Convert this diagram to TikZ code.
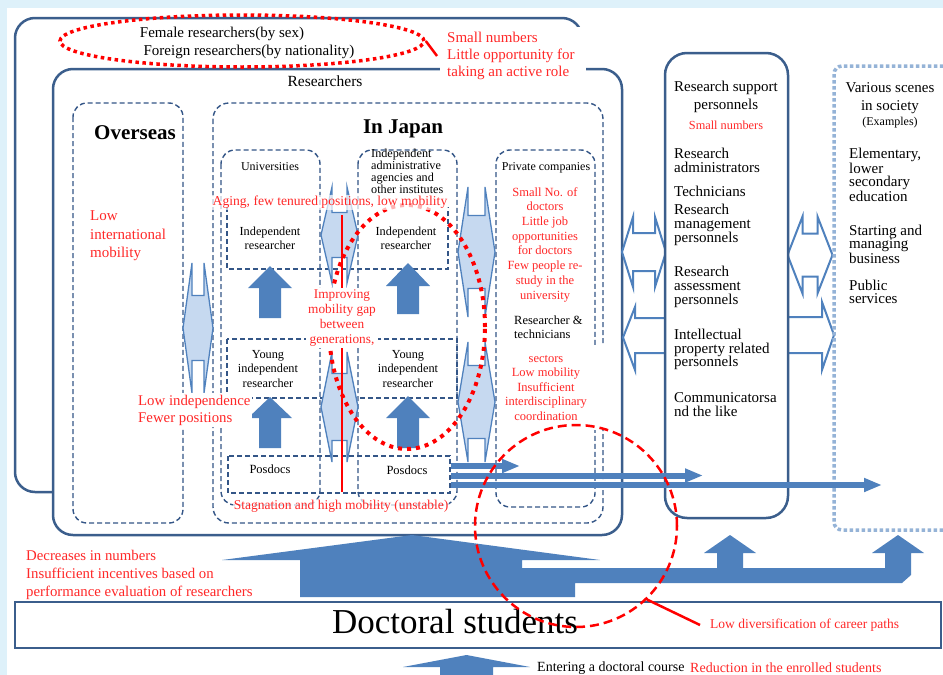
\documentclass[tikz,border=0pt]{standalone}
\usepackage{fontspec}
\setmainfont{Liberation Serif}
\usetikzlibrary{shapes.geometric,arrows.meta}
\definecolor{bgblue}{RGB}{222,241,250}
\definecolor{boxblue}{RGB}{59,94,140}
\definecolor{dashblue}{RGB}{52,86,135}
\definecolor{arrblue}{RGB}{79,129,189}
\definecolor{lightfill}{RGB}{198,217,240}
\definecolor{dotblue}{RGB}{149,179,215}
\definecolor{myred}{RGB}{255,0,0}
\definecolor{txtred}{RGB}{255,40,40}
\newcommand\fs[2]{\fontsize{#1}{#2}\selectfont}
% style, cx, cy, W, H, h, L
\newcommand\dblarrow[7]{\draw[#1] ({#2-#4/2},{#3}) -- ({#2-#4/2+#7},{#3-#5/2}) -- ({#2-#4/2+#7},{#3-#6/2}) -- ({#2+#4/2-#7},{#3-#6/2}) -- ({#2+#4/2-#7},{#3-#5/2}) -- ({#2+#4/2},{#3}) -- ({#2+#4/2-#7},{#3+#5/2}) -- ({#2+#4/2-#7},{#3+#6/2}) -- ({#2-#4/2+#7},{#3+#6/2}) -- ({#2-#4/2+#7},{#3+#5/2}) -- cycle;}
% cx, tip, headbase, bottom, headhalf, shafthalf
\newcommand\blockup[6]{\fill[arrblue] ({#1},{#2}) -- ({#1+#5},{#3}) -- ({#1+#6},{#3}) -- ({#1+#6},{#4}) -- ({#1-#6},{#4}) -- ({#1-#6},{#3}) -- ({#1-#5},{#3}) -- cycle;}
\tikzset{
  box/.style={draw=boxblue, line width=2.5pt, rounded corners=20pt},
  dbox/.style={draw=dashblue, line width=1.4pt, dash pattern=on 5pt off 3pt, rounded corners=14pt},
  lbarrow/.style={fill=lightfill, draw=arrblue, line width=1.3pt},
  oarrow/.style={fill=white, draw=arrblue, line width=2pt},
  txt/.style={inner sep=0pt, text=black},
  rtxt/.style={inner sep=0pt, text=txtred},
  harrow/.style={arrblue, line width=6pt, -{Triangle[width=13pt,length=18pt]}}
}
\begin{document}
\begin{tikzpicture}[x=1pt,y=-1pt]
\useasboundingbox (0,0) rectangle (943,675);
\fill[bgblue] (0,0) rectangle (943,675);
\fill[white] (7,8) rectangle (943,675);

% outer and researchers boxes
\draw[box] (15,18) rectangle (582,492);
\draw[box, fill=white] (53,69) rectangle (622,535);
\fill[white] (440,27) rectangle (586,84);

% top ellipse
\node[ellipse, draw=myred, line width=3.5pt, dash pattern=on 3.5pt off 3.5pt, minimum width=364pt, minimum height=52pt, inner sep=0pt] (ell) at (242,41) {};
\node[txt, font=\fs{15}{17}] (fem) at (222,34) {Female researchers(by sex)};
\node[txt, font=\fs{15}{17}] (for) at (249,52) {Foreign researchers(by nationality)};
\node[rtxt, font=\fs{15}{17}, align=left, anchor=west] (smallnum) at (447,56) {Small numbers\\Little opportunity for\\taking an active role};
\draw[myred, line width=2.5pt] (ell.east) -- ([xshift=-10pt]smallnum.west);
\node[txt, font=\fs{15.5}{18}] (res) at (325,81) {Researchers};

% Overseas
\draw[dbox] (73,103) rectangle (183,523);
\node[txt, font=\fs{21}{24}\bfseries] (ovs) at (135,133) {Overseas};
\node[rtxt, font=\fs{15}{18.5}, align=left, anchor=west] (lim) at (90,236) {Low\\international\\mobility};

% In Japan
\draw[dbox, rounded corners=16pt] (213,103) rectangle (603,523);
\node[txt, font=\fs{21}{24}\bfseries] (jpn) at (403,129) {In Japan};
\draw[dbox] (221,150) rectangle (320,505);
\draw[dbox] (358,150) rectangle (457,505);
\draw[dbox] (496,150) rectangle (595,507);
\draw[dbox, sharp corners] (227,207) -- (227,269) -- (448,269) -- (448,207);
\draw[dbox, sharp corners] (227,339) rectangle (457,398);
\draw[dbox, sharp corners] (228,456) rectangle (450,493);

% light double arrows
\dblarrow{lbarrow}{198}{328}{30}{130}{65}{9}
\dblarrow{lbarrow}{339.5}{235}{37}{96}{45}{11}
\dblarrow{lbarrow}{339.5}{407}{37}{110}{67}{11}
\dblarrow{lbarrow}{476.5}{252}{37}{130}{73}{10}
\dblarrow{lbarrow}{476.5}{402}{37}{120}{73}{10}

% promotion arrows
\blockup{270}{266}{288}{318}{22}{11}
\blockup{270}{397}{418}{448}{22}{11}
\blockup{408}{263}{286}{314}{22}{11}
\blockup{408}{396}{418}{448}{22}{11}

% red line and dotted ellipse
\draw[myred, line width=2.5pt] (342,215) -- (342,492);
\node[ellipse, draw=myred, line width=4pt, dash pattern=on 4pt off 5pt, minimum width=156pt, minimum height=244pt, inner sep=0pt] (gap) at (407,327) {};

% In Japan texts
\node[txt, font=\fs{12}{14}] (univ) at (270,167) {Universities};
\node[txt, font=\fs{12.2}{11.8}, align=left, anchor=west] (iaa) at (371,171.5) {Independent\\administrative\\agencies and\\other institutes};
\node[rtxt, font=\fs{13.6}{16}, fill=white, fill opacity=0.7, text opacity=1, inner sep=1pt] (aging) at (330,202.5) {Aging, few tenured positions, low mobility};
\node[txt, font=\fs{12.3}{14}, align=center] (ir1) at (270,238) {Independent\\researcher};
\node[txt, font=\fs{12.3}{14}, align=center] (ir2) at (406,238) {Independent\\researcher};
\node[rtxt, font=\fs{13.3}{15}, align=center, fill=white, inner sep=2pt] (impr) at (342,318) {Improving\\mobility gap\\between\\generations,};
\node[txt, font=\fs{12.3}{14.5}, align=center] (yir1) at (268,369) {Young\\independent\\researcher};
\node[txt, font=\fs{12.3}{14.5}, align=center] (yir2) at (408,369) {Young\\independent\\researcher};
\node[txt, font=\fs{12.5}{14}] (pd1) at (270,469) {Posdocs};
\node[txt, font=\fs{12.5}{14}] (pd2) at (407,470) {Posdocs};
\node[rtxt, font=\fs{13.5}{16}, fill=white, fill opacity=0.7, text opacity=1, inner sep=1pt] (stag) at (341,506) {Stagnation and high mobility (unstable)};
\node[rtxt, font=\fs{14.8}{17}, align=left, anchor=west, fill=white, inner sep=2pt] (lowind) at (136,410) {Low independence\\Fewer positions};

% Private companies
\node[txt, font=\fs{12}{14}] (priv) at (546,168) {Private companies};
\node[rtxt, font=\fs{12.5}{14.7}, align=center] (privred) at (545,244.5) {Small No. of\\doctors\\Little job\\opportunities\\for doctors\\Few people re-\\study in the\\university};
\node[txt, font=\fs{12.5}{14}, align=left, anchor=west] (rt) at (514,327) {Researcher \&\\technicians};
\fill[white] (498,346) rectangle (606,430);
\node[rtxt, font=\fs{12.5}{14.5}, align=center] (sect) at (546,388) {sectors\\Low mobility\\Insufficient\\interdisciplinary\\coordination};

% outline arrows and support box
\dblarrow{oarrow}{644}{252}{44}{70}{38}{11}
\draw[oarrow] (670,318) -- (635,318) -- (635,307) -- (623,337.5) -- (635,370) -- (635,353) -- (670,353) -- cycle;
\dblarrow{oarrow}{810}{255}{45}{77}{43}{15}
\draw[oarrow] (783,317) -- (822,317) -- (822,302) -- (834,335) -- (822,370) -- (822,353) -- (783,353) -- cycle;
\draw[box, fill=white, rounded corners=22pt] (665,53) rectangle (788,518);

\node[txt, font=\fs{15}{18}, align=center] (rsp) at (726,97) {Research support\\personnels};
\node[rtxt, font=\fs{12.3}{14}] (rspsmall) at (726,125) {Small numbers};
\node[txt, font=\fs{15}{13.5}, align=left, anchor=west] (radm) at (674,160.5) {Research\\administrators};
\node[txt, font=\fs{15}{13.5}, align=left, anchor=west] (tech) at (674,191) {Technicians};
\node[txt, font=\fs{15}{14}, align=left, anchor=west] (rman) at (674,225) {Research\\management\\personnels};
\node[txt, font=\fs{15}{14}, align=left, anchor=west] (rass) at (674,287) {Research\\assessment\\personnels};
\node[txt, font=\fs{15}{13.7}, align=left, anchor=west] (ipr) at (674,349.5) {Intellectual\\property related\\personnels};
\node[txt, font=\fs{15}{13.5}, align=left, anchor=west] (comm) at (674,404.5) {Communicatorsa\\nd the like};

% Various scenes
\draw[dotblue, line width=3.5pt, dash pattern=on 3.5pt off 2.5pt, rounded corners=8pt] (834,66) rectangle (965,530);
\node[txt, font=\fs{15}{18}, align=center] (vs) at (890,98) {Various scenes\\in society};
\node[txt, font=\fs{12}{14}] (ex) at (890,123) {(Examples)};
\node[txt, font=\fs{15}{13.4}, align=left, anchor=west] (elem) at (849,175) {Elementary,\\lower\\secondary\\education};
\node[txt, font=\fs{15}{13.2}, align=left, anchor=west] (start) at (849,244) {Starting and\\managing\\business};
\node[txt, font=\fs{15}{13.2}, align=left, anchor=west] (pub) at (849,291.5) {Public\\services};

% career arrows from posdocs
\coordinate (h1s) at (451,466); \coordinate (h1e) at (520,466);
\coordinate (h2s) at (451,475.5); \coordinate (h2e) at (703,475.5);
\coordinate (h3s) at (451,485); \coordinate (h3e) at (882,485);
\draw[harrow] (h1s) -- (h1e);
\draw[harrow] (h2s) -- (h2e);
\draw[harrow] (h3s) -- (h3e);

% big bottom arrow
\fill[arrblue] (222,560) -- (412,535) -- (600,560) -- (522,560) -- (522,568) -- (717,568) -- (717,553) -- (704,553) -- (730,535) -- (756,553) -- (743,553) -- (743,568) -- (885,568) -- (885,553) -- (872,553) -- (898,535) -- (924,553) -- (911,553) -- (911,575) -- (902,583) -- (575,583) -- (575,597) -- (300,597) -- (300,560) -- cycle;
\node[rtxt, font=\fs{14.8}{18}, align=left, anchor=west] (decr) at (26,575) {Decreases in numbers\\Insufficient incentives based on\\performance evaluation of researchers};

% doctoral students
\draw[boxblue, line width=2.5pt, fill=white] (15,602) rectangle (941,648);
\node[txt, font=\fs{35}{40}] (doc) at (455,622) {Doctoral students};
\blockup{466.5}{655}{667}{680}{63.5}{26.5}
\node[txt, font=\fs{14}{16}, anchor=west] (enter) at (537,668) {Entering a doctoral course};
\node[rtxt, font=\fs{14}{16}, anchor=west] (reduc) at (690,668) {Reduction in the enrolled students};

% red dashed circle
\node[circle, draw=myred, line width=2.5pt, dash pattern=on 9pt off 5pt, minimum size=202pt, inner sep=0pt] (lowdiv) at (576,526) {};
\node[rtxt, font=\fs{13.5}{16}, anchor=west] (ldt) at (710,625) {Low diversification of career paths};
\draw[myred, line width=2.5pt] (lowdiv.-46) -- ([xshift=-10pt]ldt.west);
\end{tikzpicture}
\end{document}
